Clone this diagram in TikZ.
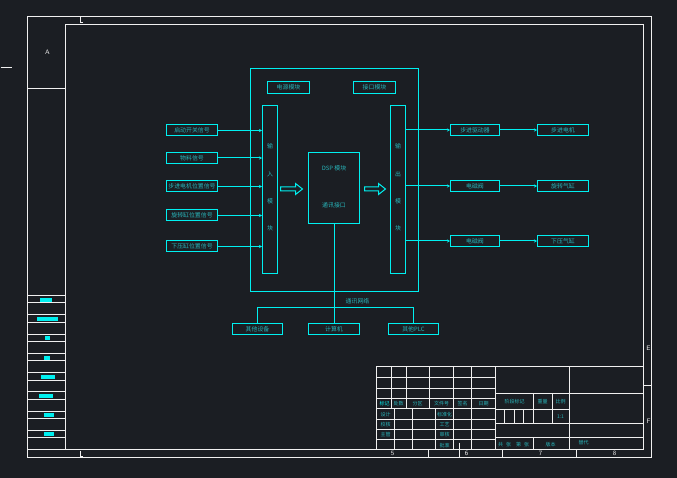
\documentclass[tikz,border=0pt]{standalone}
\usepackage{fontspec}
\newfontfamily\cjk{Noto Sans CJK SC}
\usetikzlibrary{arrows.meta}
\definecolor{bg}{RGB}{27,30,35}
\definecolor{cy}{RGB}{0,240,240}
\definecolor{tx}{RGB}{40,180,185}
\definecolor{fr}{RGB}{240,240,240}
\begin{document}
\begin{tikzpicture}[x=1pt,y=-1pt,
  lbl/.style={font=\cjk\fontsize{5.9}{6}\selectfont, text=tx, inner sep=0},
  box/.style={draw=cy, line width=1pt, inner sep=0, lbl},
  sig/.style={box, minimum width=51pt, minimum height=11pt},
  conn/.style={draw=cy, line width=1pt, -{Stealth[length=3pt,width=3pt]}},
  wire/.style={draw=cy, line width=1pt},
  frm/.style={draw=fr, line width=1pt},
  tb/.style={font=\cjk\fontsize{5}{5}\selectfont, text=tx, inner sep=0},
  mk/.style={font=\sffamily\fontsize{6.5}{6.5}\selectfont, text=fr, inner sep=0},
  strip/.style={fill=cy}]
\fill[bg] (0,0) rectangle (677,478);
\useasboundingbox (0,0) rectangle (677,478);
\begin{scope}[shift={(0.5,0.5)}]
% ---------------- frame ----------------
\draw[frm] (27,16) rectangle (651,457);
\draw[frm] (65,24) rectangle (643,449);
\draw[frm] (27,449) -- (65,449);
\draw[frm] (27,88) -- (65,88);
\foreach \y in {295,302,314,322,334,341,353,360,372,380,391,399,411,418,430,437}
  \draw[frm] (27,\y) -- (65,\y);
\fill[strip] (39,297) rectangle (51,301);
\fill[strip] (36,316) rectangle (57,320);
\fill[strip] (44,335) rectangle (49,339);
\fill[strip] (43,355) rectangle (49,359);
\fill[strip] (40,374) rectangle (54,378);
\fill[strip] (38,393) rectangle (52,397);
\fill[strip] (43,412) rectangle (53,416);
\fill[strip] (43,431) rectangle (53,435);
\draw[frm] (80,16) -- (80,22) -- (82,22);
\draw[frm] (80,450) -- (80,456) -- (82,456);
\draw[frm] (0,67) -- (11,67);
\draw[frm] (643,385) -- (651,385);
\foreach \x in {428,502,576} \draw[frm] (\x,449) -- (\x,457);
\node[mk] (zA) at (47,52) {A};
\node[mk] (zE) at (648,348) {E};
\node[mk] (zF) at (648,421) {F};
\node[mk] (z5) at (392,453) {5};
\node[mk] (z6) at (466,453) {6};
\node[mk] (z7) at (540,453) {7};
\node[mk] (z8) at (614,453) {8};

% ---------------- title block ----------------
\draw[frm] (376,366) rectangle (643,449);
\foreach \y in {377,388,398,408,419,429,439} \draw[frm] (376,\y) -- (495,\y);
\foreach \x in {391,406,429,453,471} \draw[frm] (\x,366) -- (\x,408);
\foreach \x in {394,412,435,453,471} \draw[frm] (\x,408) -- (\x,449);
\draw[frm] (459,442) -- (459,457);
\draw[frm] (495,366) -- (495,449);
\draw[frm] (569,366) -- (569,449);
\draw[frm] (495,393) -- (643,393);
\draw[frm] (495,409) -- (569,409);
\draw[frm] (495,423) -- (643,423);
\draw[frm] (495,437) -- (643,437);
\draw[frm] (533,393) -- (533,423);
\draw[frm] (552,393) -- (552,423);
\foreach \x in {504,514,523} \draw[frm] (\x,409) -- (\x,423);
\draw[frm] (533,437) -- (533,449);
\node[tb, text=cy] (t1) at (384,403) {标记};
\node[tb] (t2) at (398,403) {处数};
\node[tb] (t3) at (417,403) {分区};
\node[tb] (t4) at (441,403) {文件号};
\node[tb] (t5) at (462,403) {签名};
\node[tb] (t6) at (483,403) {日期};
\node[tb] (t7) at (385,414) {设计};
\node[tb] (t8) at (385,424) {校核};
\node[tb] (t9) at (385,434) {主管};
\node[tb] (t10) at (444,414) {标准化};
\node[tb] (t11) at (444,424) {工艺};
\node[tb] (t12) at (444,434) {审核};
\node[tb] (t13) at (444,445) {批准};
\node[tb] (t14) at (514,401) {阶段标记};
\node[tb] (t15) at (542,401) {重量};
\node[tb] (t16) at (560,401) {比例};
\node[tb] (t17) at (560,416) {1:1};
\node[tb] (t18) at (513,444) {共\hspace{3pt}张\hspace{5pt}第\hspace{3pt}张};
\node[tb] (t19) at (550,444) {版本};
\node[tb] (t20) at (583,442) {替代};

% ---------------- main diagram ----------------
\node[box, minimum width=168pt, minimum height=223pt] (main) at (334,179.5) {};
\node[box, minimum width=42pt, minimum height=12pt] (pwr) at (288,87) {电源模块};
\node[box, minimum width=42pt, minimum height=12pt] (ifc) at (374,87) {接口模块};
\node[box, minimum width=15pt, minimum height=168pt] (inmod) at (269.5,189) {};
\node[box, minimum width=15pt, minimum height=168pt] (outmod) at (397.5,189) {};
\foreach \c/\y [count=\i] in {输/146,入/174,模/201,块/228}
  \node[lbl] (in\i) at (269.5,\y) {\c};
\foreach \c/\y [count=\i] in {输/146,出/174,模/201,块/228}
  \node[lbl] (out\i) at (397.5,\y) {\c};
\node[box, minimum width=51pt, minimum height=71pt] (dsp) at (333.5,187.5) {};
\node[lbl] (dspa) at (333.5,168) {DSP 模块};
\node[lbl] (dspb) at (333.5,205) {通讯接口};

\draw[wire] (280,186.5) -- (295,186.5) -- (295,183) -- (302,188.5) -- (295,194) -- (295,190.5) -- (280,190.5) -- cycle;
\draw[wire] (364,186.5) -- (378,186.5) -- (378,183) -- (385,188.5) -- (378,194) -- (378,190.5) -- (364,190.5) -- cycle;

\node[sig] (s1) at (191.5,130) {启动开关信号};
\node[sig] (s2) at (191.5,157.5) {物料信号};
\node[sig] (s3) at (191.5,186) {步进电机位置信号};
\node[sig] (s4) at (191.5,215) {旋转缸位置信号};
\node[sig] (s5) at (191.5,246) {下压缸位置信号};
\foreach \s in {s1,s2,s3,s4,s5}
  \draw[conn] (\s.east) -- (\s.east -| inmod.west);

\node[sig, minimum width=49pt] (drv) at (474.5,129.5) {步进驱动器};
\node[sig, minimum width=49pt] (v1) at (474.5,185.5) {电磁阀};
\node[sig, minimum width=49pt] (v2) at (474.5,240.5) {电磁阀};
\node[sig] (mot) at (562.5,129.5) {步进电机};
\node[sig] (cy1) at (562.5,185.5) {旋转气缸};
\node[sig] (cy2) at (562.5,240.5) {下压气缸};
\foreach \a/\b in {drv/mot,v1/cy1,v2/cy2} {
  \draw[conn] (\a.west -| outmod.east) -- (\a.west);
  \draw[conn] (\a.east) -- (\b.west);
}

\node[sig, minimum width=50pt] (oth) at (257,328.5) {其他设备};
\node[sig] (pc) at (333.5,328.5) {计算机};
\node[sig, minimum width=50pt] (plc) at (413,328.5) {其他PLC};
\coordinate (bl) at (257,307);
\coordinate (br) at (413,307);
\draw[wire] (dsp.south) -- (pc.north);
\draw[wire] (oth.north) -- (oth.north |- bl) -- (br) -- (plc.north);
\node[lbl] (net) at (357,301) {通讯网络};
\end{scope}
\end{tikzpicture}
\end{document}
